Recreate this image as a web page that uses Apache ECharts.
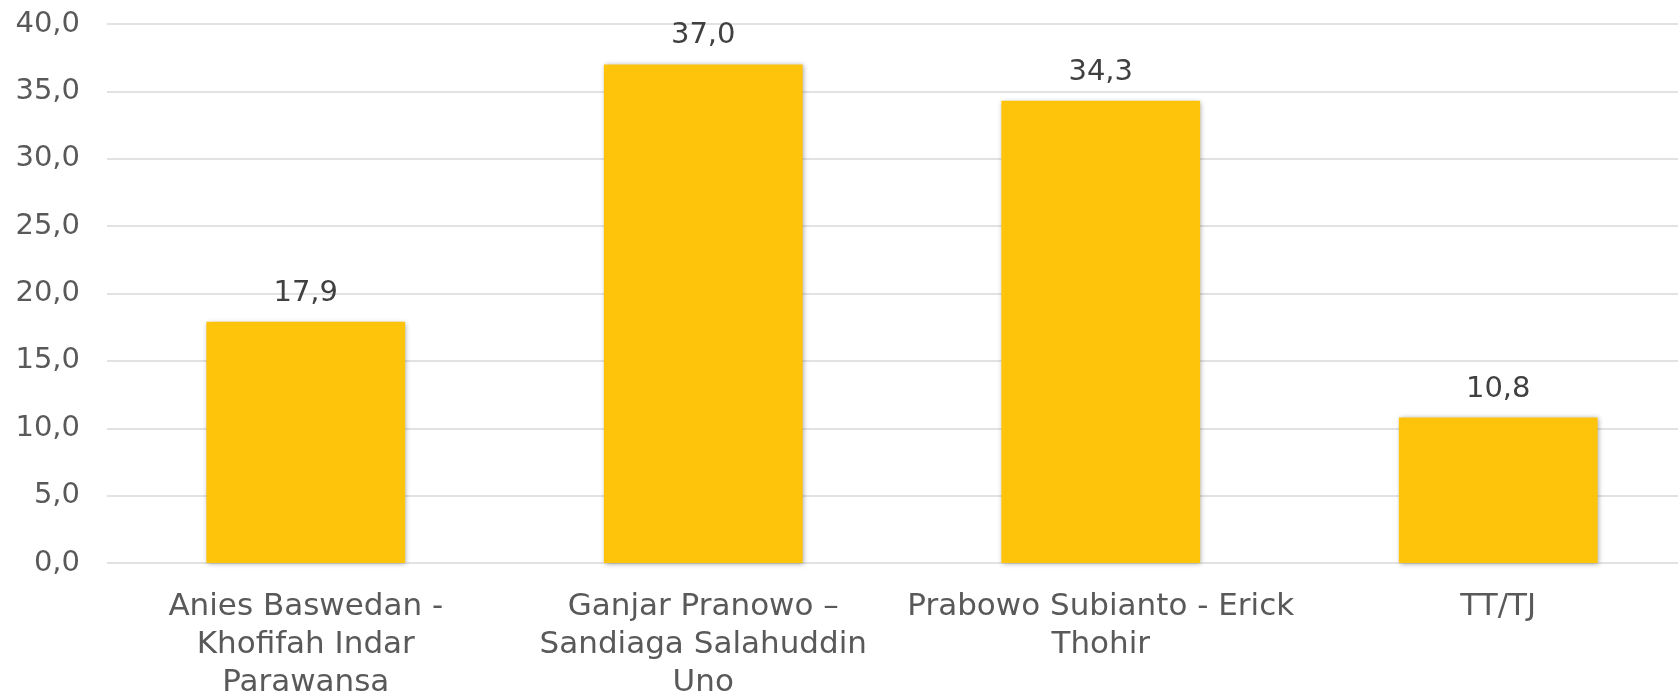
<!DOCTYPE html>
<html>
<head>
<meta charset="utf-8">
<script src="https://cdn.jsdelivr.net/npm/echarts@6/dist/echarts.min.js"></script>
<style>
  html, body { margin: 0; padding: 0; background: #fff; overflow: hidden; }
  /* the plot runs a little past the right edge in the original, so the div is wider than the window */
  #chart { width: 1697px; height: 698px; }
</style>
</head>
<body>
<div id="chart"></div>
<script>
// kategori (pasangan) dan nilai persentase
var categories = [
  'Anies Baswedan -\nKhofifah Indar\nParawansa',
  'Ganjar Pranowo –\nSandiaga Salahuddin\nUno',
  'Prabowo Subianto - Erick\nThohir',
  'TT/TJ'
];
var values = [17.9, 37.0, 34.3, 10.8];
var yTicks = [0, 5, 10, 15, 20, 25, 30, 35, 40];

var fontFamily = '"DejaVu Sans", sans-serif';
function fmt(v) { return Number(v).toFixed(1).replace('.', ','); }

var myChart = echarts.init(document.getElementById('chart'));
myChart.setOption({
  animation: false,
  grid: { left: 107, right: 0, top: 24, bottom: 135, outerBoundsMode: 'none' },
  xAxis: {
    type: 'category',
    data: categories,
    axisLine: { show: false },
    axisTick: { show: false },
    axisLabel: {
      interval: 0,
      margin: 25,
      color: '#595959',
      fontSize: 31,
      lineHeight: 38,
      fontFamily: fontFamily
    }
  },
  yAxis: {
    type: 'value',
    min: yTicks[0],
    max: yTicks[yTicks.length - 1],
    interval: yTicks[1] - yTicks[0],
    axisLine: { show: false },
    axisTick: { show: false },
    splitLine: { lineStyle: { color: '#d9d9d9', width: 1.5 } },
    axisLabel: {
      margin: 27,
      color: '#595959',
      fontSize: 29,
      fontFamily: fontFamily,
      formatter: fmt
    }
  },
  series: [{
    type: 'bar',
    data: values,
    barWidth: '50%',
    itemStyle: {
      color: '#FEC30B',
      shadowColor: 'rgba(0,0,0,0.35)',
      shadowBlur: 5,
      shadowOffsetX: 1,
      shadowOffsetY: 1
    },
    label: {
      show: true,
      position: 'top',
      distance: 14,
      color: '#404040',
      fontSize: 29,
      fontFamily: fontFamily,
      formatter: function (p) { return fmt(p.value); }
    }
  }]
});
window.onresize = function () { myChart.resize(); };
</script>
</body>
</html>
